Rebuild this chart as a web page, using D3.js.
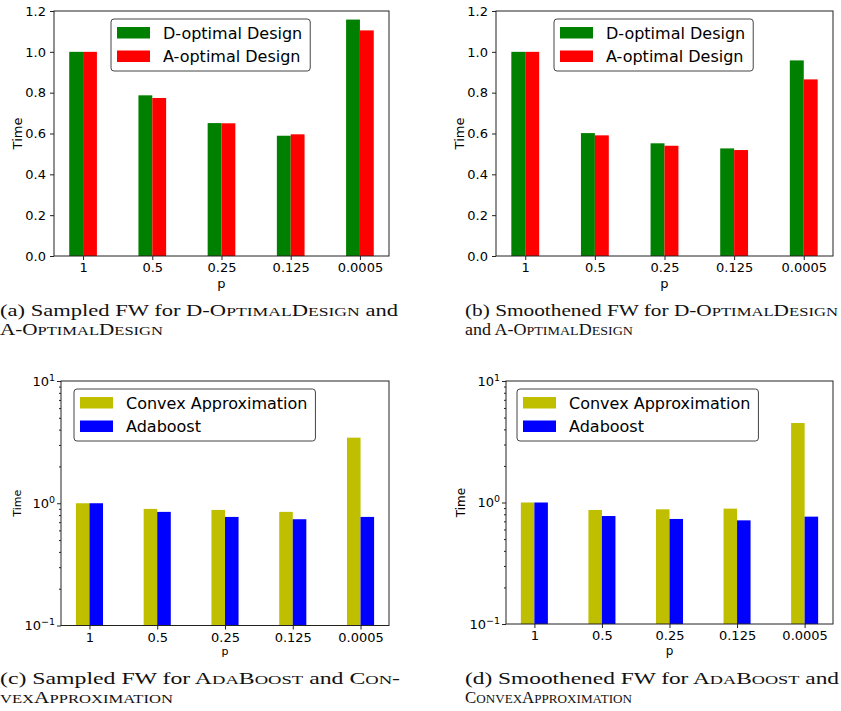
<!DOCTYPE html>
<html>
<head>
<meta charset="utf-8">
<script src="https://cdn.jsdelivr.net/npm/d3@7"></script>
<style>
  body { margin: 0; background: #fff; }
  text { font-family: "DejaVu Sans", sans-serif; }
</style>
</head>
<body>
<svg id="fig" width="841" height="711"></svg>
<script>
// values (time, relative to p = 1)
const categories = ["1", "0.5", "0.25", "0.125", "0.0005"];

const sampledDopt = [1.0, 0.787, 0.651, 0.589, 1.158];
const sampledAopt = [1.0, 0.774, 0.650, 0.596, 1.105];
const smoothDopt = [1.0, 0.602, 0.552, 0.527, 0.958];
const smoothAopt = [1.0, 0.591, 0.540, 0.519, 0.865];

const sampledConvex = [1.0, 0.899, 0.882, 0.850, 3.44];
const sampledAda = [1.0, 0.850, 0.773, 0.740, 0.773];
const smoothConvex = [1.0, 0.868, 0.879, 0.890, 4.51];
const smoothAda = [1.0, 0.774, 0.732, 0.713, 0.765];

const linearTicks = [0, 0.2, 0.4, 0.6, 0.8, 1.0, 1.2];
const logTicks = [0.1, 1, 10];

let svg = d3.select("#fig");
svg.append("rect").attr("width", 841).attr("height", 711).attr("fill", "#fff");

function drawPanel(p) {
  let g = svg.append("g");
  let x = d3.scaleLinear().domain([-0.42, 4.42]).range([p.left, p.right]);
  let y = p.log
    ? d3.scaleLog().domain([0.1, 10]).range([p.bottom, p.top])
    : d3.scaleLinear().domain([0, 1.2]).range([p.bottom, p.top]);
  let bw = 0.2;

  p.series.forEach((s, k) => {
    g.selectAll(null)
      .data(s.values)
      .enter().append("rect")
      .attr("x", (d, i) => x(i - bw + k * bw))
      .attr("width", x(bw) - x(0))
      .attr("y", d => y(d))
      .attr("height", d => p.bottom - y(d))
      .attr("fill", s.color);
  });

  // frame
  g.append("rect")
    .attr("x", p.left).attr("y", p.top)
    .attr("width", p.right - p.left).attr("height", p.bottom - p.top)
    .attr("fill", "none").attr("stroke", "#222").attr("stroke-width", 1);

  let xAxis = d3.axisBottom(x)
    .tickValues(d3.range(categories.length))
    .tickFormat(i => categories[i])
    .tickSize(4).tickPadding(3);
  let gx = g.append("g").attr("transform", `translate(0,${p.bottom})`).call(xAxis);
  gx.select(".domain").remove();
  gx.selectAll(".tick line").attr("stroke", "#222");
  gx.selectAll(".tick text").style("font-size", "13px").attr("fill", "#000")
    .style("font-family", "DejaVu Sans");

  if (p.log) {
    let gy = g.append("g").attr("transform", `translate(${p.left},0)`)
      .call(d3.axisLeft(y).tickValues(logTicks).tickFormat("").tickSize(4));
    gy.select(".domain").remove();
    gy.selectAll(".tick line").attr("stroke", "#222");
    let minor = [];
    [0.1, 1].forEach(b => d3.range(2, 10).forEach(k => minor.push(b * k)));
    let gm = g.append("g").attr("transform", `translate(${p.left},0)`)
      .call(d3.axisLeft(y).tickValues(minor).tickFormat("").tickSize(2));
    gm.select(".domain").remove();
    gm.selectAll(".tick line").attr("stroke", "#222");
    logTicks.forEach(v => {
      let e = Math.round(Math.log10(v));
      let t = g.append("text")
        .attr("x", p.left - 6).attr("y", y(v) + 4.5)
        .attr("text-anchor", "end").style("font-size", "13px");
      t.append("tspan").text("10");
      t.append("tspan").attr("dy", -5).style("font-size", "9.5px")
        .text(e < 0 ? "\u2212" + Math.abs(e) : e);
    });
  } else {
    let gy = g.append("g").attr("transform", `translate(${p.left},0)`)
      .call(d3.axisLeft(y).tickValues(linearTicks).tickFormat(d3.format(".1f")).tickSize(4).tickPadding(4));
    gy.select(".domain").remove();
    gy.selectAll(".tick line").attr("stroke", "#222");
    gy.selectAll(".tick text").style("font-size", "13px").attr("fill", "#000")
      .style("font-family", "DejaVu Sans");
  }

  // axis labels
  g.append("text")
    .attr("transform", `translate(${p.yLabelX},${(p.top + p.bottom) / 2}) rotate(-90)`)
    .attr("text-anchor", "middle").style("font-size", p.labelSize + "px")
    .text("Time");
  g.append("text")
    .attr("x", (p.left + p.right) / 2).attr("y", p.xLabelY)
    .attr("text-anchor", "middle").style("font-size", p.labelSize + "px")
    .text("p");

  // legend
  let lg = g.append("g").attr("transform", `translate(${p.legX},${p.legY})`);
  let box = lg.append("rect")
    .attr("height", 52).attr("rx", 3)
    .attr("fill", "#fff").attr("fill-opacity", 0.8)
    .attr("stroke", "#444").attr("stroke-width", 1);
  let maxW = 0;
  p.series.forEach((s, k) => {
    let yy = 8 + k * 23.5;
    lg.append("rect").attr("x", 6).attr("y", yy).attr("width", 33).attr("height", 11.5)
      .attr("fill", s.color);
    let t = lg.append("text").attr("x", 52).attr("y", yy + 11.5)
      .style("font-size", "16px").text(s.name);
    maxW = Math.max(maxW, t.node().getComputedTextLength());
  });
  box.attr("width", 52 + maxW + 8);
}

const panels = [
  { left: 54, right: 389, top: 11, bottom: 256, log: false,
    yLabelX: 22, xLabelY: 287.5, labelSize: 13, legX: 111, legY: 19,
    series: [{ name: "D-optimal Design", values: sampledDopt, color: "#008000" },
             { name: "A-optimal Design", values: sampledAopt, color: "#ff0000" }] },
  { left: 496, right: 833, top: 11, bottom: 256, log: false,
    yLabelX: 464, xLabelY: 287.5, labelSize: 13, legX: 554, legY: 19,
    series: [{ name: "D-optimal Design", values: smoothDopt, color: "#008000" },
             { name: "A-optimal Design", values: smoothAopt, color: "#ff0000" }] },
  { left: 61, right: 389, top: 381, bottom: 625.5, log: true,
    yLabelX: 20.5, xLabelY: 655, labelSize: 11, legX: 74, legY: 389,
    series: [{ name: "Convex Approximation", values: sampledConvex, color: "#bfbf00" },
             { name: "Adaboost", values: sampledAda, color: "#0000ff" }] },
  { left: 506, right: 833, top: 381, bottom: 624, log: true,
    yLabelX: 464.5, xLabelY: 655, labelSize: 12, legX: 517, legY: 389,
    series: [{ name: "Convex Approximation", values: smoothConvex, color: "#bfbf00" },
             { name: "Adaboost", values: smoothAda, color: "#0000ff" }] }
];
panels.forEach(drawPanel);

// captions: text inside {} is set in small caps, each line stretched to its width
function caption(x, y, str, width) {
  let t = svg.append("text").attr("x", x).attr("y", y)
    .style("font-family", "'Liberation Serif', serif").style("font-size", "16px")
    .attr("fill", "#111");
  str.split(/(\{[^}]*\})/).forEach(part => {
    if (!part) return;
    if (part[0] !== "{") { t.append("tspan").text(part); return; }
    part.slice(1, -1).split(/([a-z]+)/).forEach(run => {
      if (!run) return;
      if (/^[a-z]+$/.test(run)) t.append("tspan").style("font-size", "12.5px").text(run.toUpperCase());
      else t.append("tspan").text(run);
    });
  });
  t.attr("textLength", width).attr("lengthAdjust", "spacingAndGlyphs");
}

caption(0, 316, "(a) Sampled FW for {D-OptimalDesign} and", 398);
caption(0, 335, "{A-OptimalDesign}", 163);
caption(465, 316, "(b) Smoothened FW for {D-OptimalDesign}", 373);
caption(465, 335, "and {A-OptimalDesign}", 168);
caption(0, 684, "(c) Sampled FW for {AdaBoost} and {Con-}", 400);
caption(0, 703, "{vexApproximation}", 173);
caption(465, 684, "(d) Smoothened FW for {AdaBoost} and", 374);
caption(465, 703, "{ConvexApproximation}", 167);
</script>
</body>
</html>
